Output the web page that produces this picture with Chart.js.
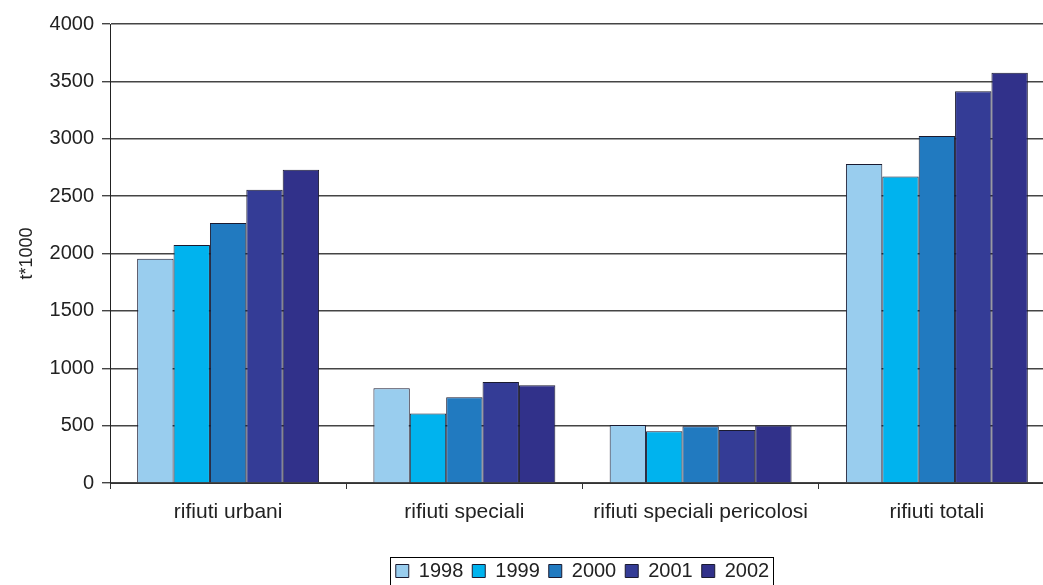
<!DOCTYPE html>
<html>
<head>
<meta charset="utf-8">
<script src="https://cdn.jsdelivr.net/npm/chart.js@4/dist/chart.umd.min.js"></script>
<style>
html,body{margin:0;padding:0;background:#fff;overflow:hidden;}
#wrap{width:1164px;height:585px;position:relative;}
</style>
</head>
<body>
<div id="wrap"><canvas id="c" width="1164" height="585"></canvas></div>
<script>
const categories=['rifiuti urbani','rifiuti speciali','rifiuti speciali pericolosi','rifiuti totali'];
const years=['1998','1999','2000','2001','2002'];
const v1998=[1955,825,505,2780];
const v1999=[2075,605,450,2670];
const v2000=[2265,748,495,3025];
const v2001=[2555,880,462,3415];
const v2002=[2730,852,502,3575];
const yTicks=[0,500,1000,1500,2000,2500,3000,3500,4000];
const colors=['#99cdee','#00b3ee','#217ac0','#343c96','#31318a'];

const series=[v1998,v1999,v2000,v2001,v2002];
const font="'Liberation Sans', Arial, sans-serif";

// shift the legend so it sits centred under the plot, and draw its frame
const legendBox={
  id:'legendBox',
  afterLayout(chart){
    const lg=chart.legend; if(!lg) return;
    const ca=chart.chartArea, mid=(ca.left+ca.right)/2, cur=(lg.left+lg.right)/2;
    lg.left+=mid-cur; lg.right+=mid-cur;
    lg.top+=6; lg.bottom+=6;
  },
  afterDraw(chart){
    const lg=chart.legend; if(!lg||!lg.legendHitBoxes.length) return;
    const hb=lg.legendHitBoxes, c=chart.ctx;
    const x0=hb[0].left-6, x1=hb[hb.length-1].left+hb[hb.length-1].width+4;
    c.save(); c.strokeStyle='#000'; c.lineWidth=1;
    c.strokeRect(Math.round(x0)+0.5,557.5,Math.round(x1-x0),30); c.restore();
  }
};

new Chart(document.getElementById('c'),{
  type:'bar',
  data:{labels:categories,datasets:years.map((y,i)=>({label:y,data:series[i],backgroundColor:colors[i],borderColor:'#1a1a30',borderWidth:1,categoryPercentage:0.77,barPercentage:1}))},
  options:{
    responsive:false,animation:false,devicePixelRatio:1,
    layout:{padding:{top:24,right:109,left:0,bottom:0}},
    plugins:{
      tooltip:{enabled:false},
      legend:{position:'bottom',labels:{font:{family:font,size:20},color:'#222',boxWidth:13,boxHeight:13,padding:9,useBorderRadius:false}}
    },
    scales:{
      x:{
        grid:{offset:true,drawOnChartArea:false,drawTicks:true,tickLength:6,color:'#333'},
        border:{color:'#333',width:1},
        ticks:{font:{family:font,size:21},color:'#222',padding:11,maxRotation:0},
        afterFit(s){s.height=63;}
      },
      y:{
        min:0,max:4000,
        afterBuildTicks(s){s.ticks=yTicks.map(v=>({value:v}));},
        grid:{color:'#444',lineWidth:1.4,tickLength:8},
        border:{color:'#222',width:1},
        ticks:{font:{family:font,size:20},color:'#222',padding:8,callback:v=>String(v)},
        title:{display:true,text:'t*1000',font:{family:font,size:18},color:'#222',padding:{top:16,bottom:0}},
        afterFit(s){s.width=110;}
      }
    }
  },
  plugins:[legendBox]
});
</script>
</body>
</html>
